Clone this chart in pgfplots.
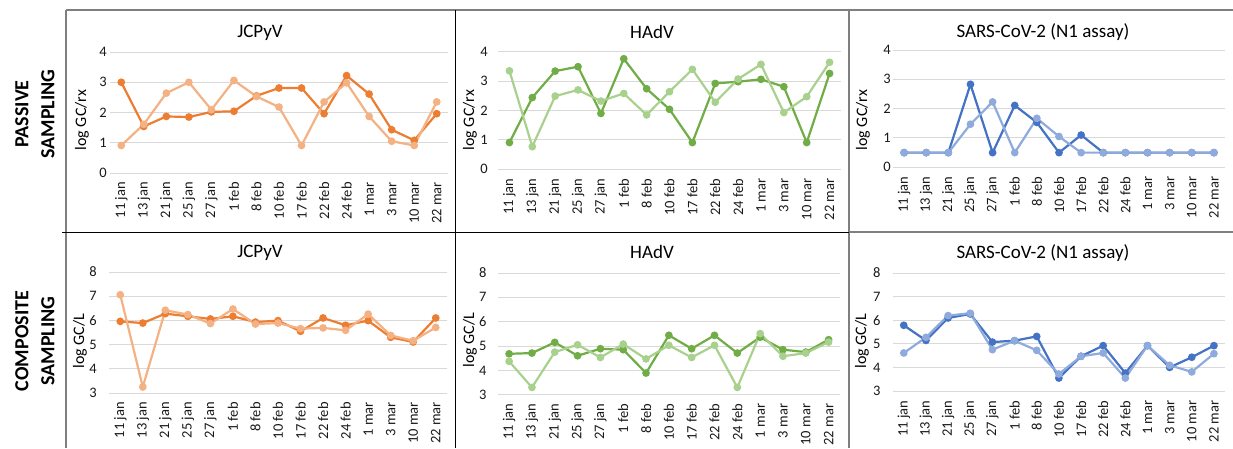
\documentclass[border=0pt]{standalone}
\usepackage{fontspec}
\setmainfont{Carlito}
\usepackage{pgfplots}
\usepackage{pgfplotstable}
\pgfplotsset{compat=1.18}
\definecolor{dOr}{HTML}{ED7D31}
\definecolor{lOr}{HTML}{F4B183}
\definecolor{dGr}{HTML}{70AD47}
\definecolor{lGr}{HTML}{A9D18E}
\definecolor{dBl}{HTML}{4472C4}
\definecolor{lBl}{HTML}{8FAADC}
\definecolor{gridc}{HTML}{D9D9D9}
\definecolor{bord}{HTML}{7F7F7F}

\pgfplotstableread{
x d l
0 3.00 0.91
1 1.54 1.61
2 1.87 2.64
3 1.85 3.00
4 2.02 2.09
5 2.04 3.06
6 2.55 2.53
7 2.81 2.18
8 2.81 0.91
9 1.96 2.35
10 3.22 2.98
11 2.61 1.87
12 1.43 1.05
13 1.08 0.91
14 1.96 2.35
}\tA
\pgfplotstableread{
x d l
0 0.91 3.35
1 2.44 0.77
2 3.34 2.49
3 3.49 2.70
4 1.90 2.32
5 3.76 2.58
6 2.74 1.85
7 2.04 2.64
8 0.91 3.40
9 2.92 2.28
10 2.98 3.07
11 3.06 3.57
12 2.81 1.93
13 0.91 2.47
14 3.26 3.64
}\tB
\pgfplotstableread{
x d l
0 0.5 0.5
1 0.5 0.5
2 0.5 0.5
3 2.83 1.47
4 0.5 2.23
5 2.11 0.5
6 1.53 1.67
7 0.5 1.05
8 1.10 0.5
9 0.5 0.5
10 0.5 0.5
11 0.5 0.5
12 0.5 0.5
13 0.5 0.5
14 0.5 0.5
}\tC
\pgfplotstableread{
x d l
0 5.96 7.06
1 5.89 3.25
2 6.28 6.42
3 6.17 6.24
4 6.06 5.87
5 6.17 6.47
6 5.93 5.85
7 5.99 5.89
8 5.55 5.66
9 6.10 5.69
10 5.80 5.59
11 5.99 6.26
12 5.30 5.38
13 5.11 5.16
14 6.10 5.71
}\tD
\pgfplotstableread{
x d l
0 4.68 4.37
1 4.71 3.30
2 5.15 4.75
3 4.60 5.05
4 4.89 4.53
5 4.85 5.08
6 3.89 4.47
7 5.44 5.03
8 4.89 4.53
9 5.44 5.03
10 4.71 3.30
11 5.36 5.51
12 4.85 4.58
13 4.75 4.71
14 5.26 5.16
}\tE
\pgfplotstableread{
x d l
0 5.79 4.62
1 5.15 5.28
2 6.10 6.20
3 6.27 6.30
4 5.08 4.76
5 5.14 5.14
6 5.32 4.73
7 3.56 3.73
8 4.48 4.48
9 4.93 4.62
10 3.77 3.56
11 4.93 4.93
12 4.01 4.10
13 4.44 3.82
14 4.93 4.59
}\tF

\pgfplotsset{
 panel/.style={
  scale only axis, anchor=south west,
  xmin=-0.5, xmax=14.5, xtick={0,...,14},
  xticklabels={11 jan,13 jan,21 jan,25 jan,27 jan,1 feb,8 feb,10 feb,17 feb,22 feb,24 feb,1 mar,3 mar,10 mar,22 mar},
  axis line style={draw=none}, major tick length=0pt,
  ymajorgrids, grid style={line width=1pt, color=gridc},
  ticklabel style={font=\fontsize{14.5}{14.5}\selectfont, inner sep=0pt, text=black!90},
  /pgf/number format/assume math mode=true,
  xticklabel style={rotate=90, anchor=east},
  xticklabel shift=9pt,
  yticklabel style={anchor=east},
  clip=false,
 },
 top/.style={ymin=0, ymax=4, ytick={0,...,4}},
 bot/.style={ymin=3, ymax=8, ytick={3,...,8}},
 ser/.style={line width=2.2pt, color=#1, mark=*, mark size=2.7pt, mark options={solid, fill=#1, draw=#1}},
}

\begin{document}
\begin{tikzpicture}
\useasboundingbox (0pt,0pt) rectangle (1233pt,448pt);

% borders
\draw[bord, line width=1.2pt] (66pt,438pt) -- (1233pt,438pt);
\draw[bord, line width=1.5pt] (66pt,438pt) -- (66pt,0pt);
\draw[black, line width=1pt] (455pt,438pt) -- (455pt,0pt);
\draw[bord, line width=2pt] (849pt,438pt) -- (849pt,0pt);
\draw[black, line width=1pt] (62pt,216pt) -- (849pt,216pt);
\draw[bord, line width=1.5pt] (849pt,216pt) -- (1233pt,216pt);

% row labels
\node[rotate=90, font=\bfseries\fontsize{20}{26}\selectfont, align=center] at (35pt,334pt) {PASSIVE\\SAMPLING};
\node[rotate=90, font=\bfseries\fontsize{20}{26}\selectfont, align=center] at (35pt,107pt) {COMPOSITE\\SAMPLING};

% titles
\foreach \xx/\yy/\lab in {260/415/{JCPyV}, 652/416/{HAdV}, 1043/416/{SARS-CoV-2 (N1 assay)}, 260/195/{JCPyV}, 652/196/{HAdV}, 1043/195/{SARS-CoV-2 (N1 assay)}}
  \node[font=\fontsize{19}{19}\selectfont] at (\xx pt,\yy pt) {\lab};

% y labels
\foreach \xx/\yy/\lab in {82/328/{log GC/rx}, 470/328/{log GC/rx}, 863/328/{log GC/rx}, 80/107/{log GC/L}, 470/108/{log GC/L}, 862/107/{log GC/L}}
  \node[rotate=90, font=\fontsize{16}{16}\selectfont] at (\xx pt,\yy pt) {\lab};

\begin{axis}[panel, top, at={(110pt,275pt)}, width=338pt, height=121pt, yticklabel shift=3pt]
\addplot[ser=dOr] table[x=x,y=d]{\tA};
\addplot[ser=lOr] table[x=x,y=l]{\tA};
\end{axis}
\begin{axis}[panel, top, at={(498pt,278.7pt)}, width=343pt, height=117.6pt, yticklabel shift=10pt]
\addplot[ser=dGr] table[x=x,y=d]{\tB};
\addplot[ser=lGr] table[x=x,y=l]{\tB};
\end{axis}
\begin{axis}[panel, top, at={(893pt,280.7pt)}, width=332pt, height=117.3pt, yticklabel shift=2pt]
\addplot[ser=dBl] table[x=x,y=d]{\tC};
\addplot[ser=lBl] table[x=x,y=l]{\tC};
\end{axis}
\begin{axis}[panel, bot, at={(109pt,55pt)}, width=338pt, height=121pt, yticklabel shift=12pt]
\addplot[ser=dOr] table[x=x,y=d]{\tD};
\addplot[ser=lOr] table[x=x,y=l]{\tD};
\end{axis}
\begin{axis}[panel, bot, at={(497.7pt,53.3pt)}, width=342.3pt, height=121.7pt, yticklabel shift=11pt]
\addplot[ser=dGr] table[x=x,y=d]{\tE};
\addplot[ser=lGr] table[x=x,y=l]{\tE};
\end{axis}
\begin{axis}[panel, bot, at={(892.7pt,56.7pt)}, width=332.3pt, height=118.3pt, yticklabel shift=12pt]
\addplot[ser=dBl] table[x=x,y=d]{\tF};
\addplot[ser=lBl] table[x=x,y=l]{\tF};
\end{axis}
\end{tikzpicture}
\end{document}
